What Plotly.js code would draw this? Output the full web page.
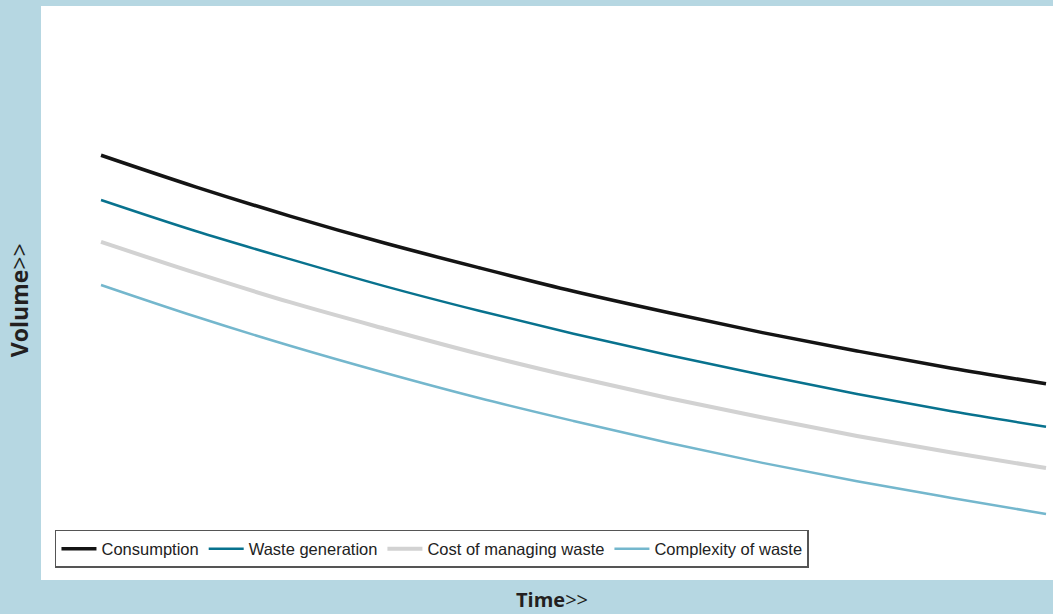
<!DOCTYPE html>
<html>
<head>
<meta charset="utf-8">
<script src="https://cdn.plot.ly/plotly-3.0.1.min.js"></script>
<style>html,body{margin:0;padding:0;background:#b6d7e2;}#chart{width:1053px;height:614px;}</style>
</head>
<body>
<div id="chart"></div>
<script>
const time = [0, 1, 2, 3, 4, 5, 6, 7, 8, 9, 10];
const consumption = [74.0, 68.5, 63.4, 58.7, 54.4, 50.3, 46.6, 43.1, 39.9, 36.9, 34.2];
const wasteGeneration = [66.2, 60.8, 55.9, 51.2, 46.9, 42.9, 39.2, 35.7, 32.4, 29.4, 26.7];
const costOfManagingWaste = [58.9, 53.5, 48.4, 43.8, 39.4, 35.4, 31.7, 28.3, 25.1, 22.2, 19.5];
const complexityOfWaste = [51.4, 45.9, 40.8, 36.1, 31.7, 27.7, 23.9, 20.4, 17.2, 14.3, 11.5];
const seriesNames = ["Consumption", "Waste generation", "Cost of managing waste", "Complexity of waste"];

const styles = [
  {color: '#141414', width: 3.5},
  {color: '#08728e', width: 2.5},
  {color: '#d2d2d2', width: 4},
  {color: '#74b7cd', width: 2.5}
];
const series = [consumption, wasteGeneration, costOfManagingWaste, complexityOfWaste];
const traces = series.map((s, i) => ({
  x: time, y: s, name: seriesNames[i], type: 'scatter', mode: 'lines',
  line: {color: styles[i].color, width: styles[i].width, shape: 'spline'}
}));

const layout = {
  width: 1053, height: 614,
  paper_bgcolor: '#b6d7e2', plot_bgcolor: '#ffffff',
  margin: {l: 41, r: 0, t: 6, b: 34, pad: 0},
  showlegend: true,
  legend: {
    orientation: 'h', x: 0.0138, xanchor: 'left', y: 0.021, yanchor: 'bottom',
    bgcolor: '#ffffff', bordercolor: '#555555', borderwidth: 1.5,
    font: {family: 'Liberation Sans, Arial, sans-serif', size: 16.5, color: '#222222'},
    traceorder: 'normal', itemwidth: 35
  },
  xaxis: {range: [-0.635, 10.074], showgrid: false, zeroline: false, showticklabels: false, ticks: '', showline: false, fixedrange: true},
  yaxis: {range: [0, 100], showgrid: false, zeroline: false, showticklabels: false, ticks: '', showline: false, fixedrange: true},
  annotations: [
    {text: '<b>Volume</b>&gt;&gt;', xref: 'paper', yref: 'paper', x: -0.0215, y: 0.488, xanchor: 'center', yanchor: 'middle', textangle: -90, showarrow: false,
     font: {family: 'Open Sans, DejaVu Sans, sans-serif', size: 23, color: '#231f20'}},
    {text: '<b>Time</b>&gt;&gt;', xref: 'paper', yref: 'paper', x: 0.505, y: -0.0345, xanchor: 'center', yanchor: 'middle', showarrow: false,
     font: {family: 'Open Sans, DejaVu Sans, sans-serif', size: 20, color: '#231f20'}}
  ]
};
Plotly.newPlot('chart', traces, layout, {displayModeBar: false, staticPlot: true});
</script>
</body>
</html>
